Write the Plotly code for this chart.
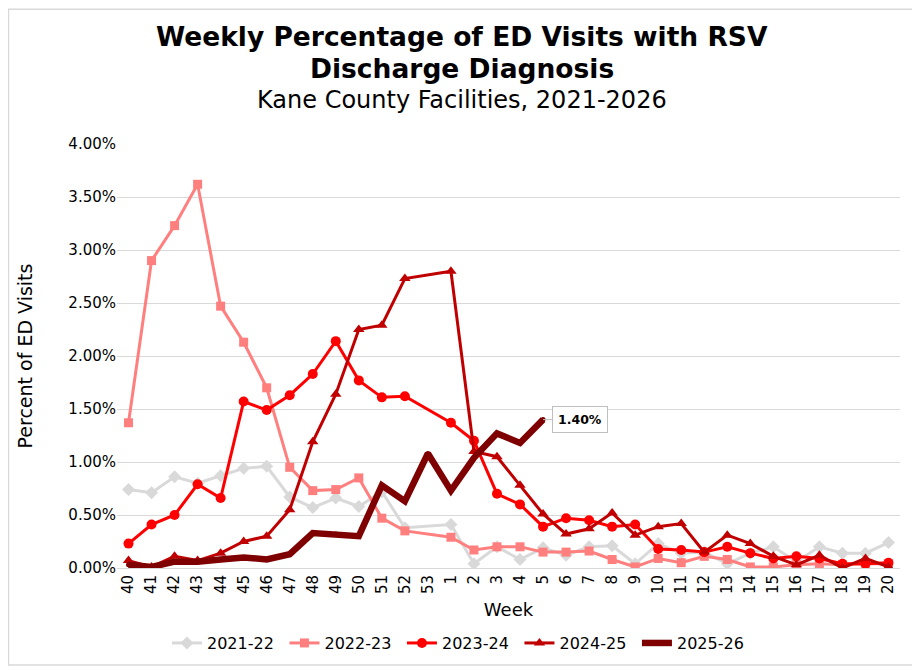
import plotly.graph_objects as go

weeks = [str(w) for w in range(40, 54)] + [str(w) for w in range(1, 21)]

# percent of ED visits (None = no point that week)
s2122 = [0.74, 0.71, 0.86, 0.80, 0.87, 0.94, 0.96, 0.67, 0.57, 0.66, 0.58, 0.72, 0.38, None,
         0.41, 0.04, 0.20, 0.08, 0.19, 0.12, 0.20, 0.21, 0.04, 0.23, 0.14, 0.15, 0.04, 0.14,
         0.20, 0.06, 0.20, 0.14, 0.14, 0.24]
s2223 = [1.37, 2.90, 3.23, 3.62, 2.47, 2.13, 1.70, 0.95, 0.73, 0.74, 0.85, 0.47, 0.35, None,
         0.29, 0.17, 0.20, 0.20, 0.15, 0.15, 0.16, 0.08, 0.01, 0.09, 0.05, 0.11, 0.08, 0.01,
         0.01, 0.03, 0.04, 0.03, 0.04, 0.04]
s2324 = [0.23, 0.41, 0.50, 0.79, 0.66, 1.57, 1.49, 1.63, 1.83, 2.14, 1.77, 1.61, 1.62, None,
         1.37, 1.20, 0.70, 0.60, 0.39, 0.47, 0.45, 0.39, 0.41, 0.18, 0.17, 0.15, 0.20, 0.14,
         0.09, 0.11, 0.09, 0.04, 0.04, 0.05]
s2425 = [0.07, 0.01, 0.11, 0.07, 0.14, 0.25, 0.30, 0.55, 1.19, 1.64, 2.25, 2.29, 2.73, None,
         2.80, 1.10, 1.05, 0.78, 0.51, 0.32, 0.37, 0.52, 0.31, 0.39, 0.42, 0.15, 0.31, 0.23,
         0.11, 0.03, 0.12, 0.00, 0.09, 0.01]
s2526 = [0.03, 0.01, 0.06, 0.06, 0.08, 0.10, 0.08, 0.13, 0.33, 0.32, 0.30, 0.78, 0.63, 1.08,
         0.73, 1.04, 1.27, 1.18, 1.40]

FONT = "Verdana, DejaVu Sans, sans-serif"
series = [
    ("2021-22", s2122, "#D9D9D9", 3, "diamond", 10),
    ("2022-23", s2223, "#FF7F7F", 3, "square", 9),
    ("2023-24", s2324, "#FF0000", 3, "circle", 10),
    ("2024-25", s2425, "#C00000", 3, "triangle-up", 10),
    ("2025-26", s2526, "#7F0000", 6.5, "circle", 5),
]

fig = go.Figure()
for name, vals, col, lw, sym, ms in series:
    fig.add_trace(go.Scatter(x=weeks[:len(vals)], y=vals, name=name, mode="lines+markers",
                             connectgaps=True, line=dict(color=col, width=lw),
                             marker=dict(symbol=sym, size=ms, color=col)))

# data label on the latest week (x given as category index)
fig.add_annotation(x=len(s2526) - 1, y=s2526[-1], text="<b>1.40%</b>",
                   showarrow=True, arrowhead=0, arrowcolor="#BFBFBF", arrowwidth=1,
                   ax=9, ay=0, xanchor="left", bgcolor="white", bordercolor="#BFBFBF",
                   borderwidth=1, borderpad=5, font=dict(size=12.5, color="black", family=FONT))

# titles
tx = 0.4406
fig.add_annotation(xref="paper", yref="paper", x=tx, y=1.254, yanchor="middle", showarrow=False,
                   text="<b>Weekly Percentage of ED Visits with RSV</b>", font=dict(size=26.5))
fig.add_annotation(xref="paper", yref="paper", x=tx, y=1.179, yanchor="middle", showarrow=False,
                   text="<b>Discharge Diagnosis</b>", font=dict(size=26.5))
fig.add_annotation(xref="paper", yref="paper", x=tx, y=1.104, yanchor="middle", showarrow=False,
                   text="Kane County Facilities, 2021-2026", font=dict(size=24))

# outer chart border
fig.add_shape(type="rect", xref="paper", yref="paper", x0=-0.1386, x1=1.0192, y0=-0.2288, y1=1.318,
              line=dict(color="#D9D9D9", width=1.5))

# page body has an 8px margin, so the figure is 8px smaller than the window
fig.update_layout(
    width=912, height=662, paper_bgcolor="white", plot_bgcolor="white",
    margin=dict(l=109, r=20, t=136, b=102, autoexpand=False),
    font=dict(family=FONT, color="black"),
    xaxis=dict(type="category", categoryorder="array", categoryarray=weeks,
               range=[-0.5, len(weeks) - 0.5], tickangle=-90, tickfont=dict(size=15),
               showgrid=False, showline=True, linecolor="#D9D9D9", ticks="", automargin=False,
               title=dict(text="Week", font=dict(size=18), standoff=10)),
    yaxis=dict(range=[0, 4.0], dtick=0.5, tickformat=".2f", ticksuffix="%",
               tickfont=dict(size=15), gridcolor="#D9D9D9", zeroline=False, automargin=False,
               title=dict(text="Percent of ED Visits", font=dict(size=19), standoff=30)),
    legend=dict(orientation="h", x=0.0638, xanchor="left", y=-0.177, yanchor="middle",
                font=dict(size=16), tracegroupgap=0, entrywidth=72.5),
)

fig.write_html("out.html")
